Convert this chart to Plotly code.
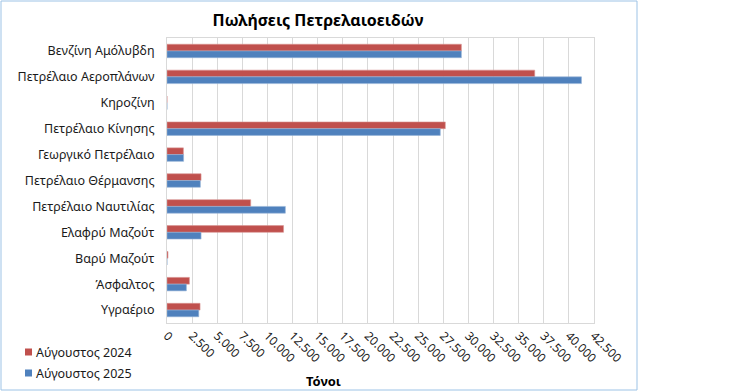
import plotly.graph_objects as go

categories = ["Βενζίνη Αμόλυβδη", "Πετρέλαιο Αεροπλάνων", "Κηροζίνη", "Πετρέλαιο Κίνησης",
              "Γεωργικό Πετρέλαιο", "Πετρέλαιο Θέρμανσης", "Πετρέλαιο Ναυτιλίας",
              "Ελαφρύ Μαζούτ", "Βαρύ Μαζούτ", "Άσφαλτος", "Υγραέριο"]
aug_2024 = [29300, 36600, 0, 27700, 1630, 3390, 8330, 11600, 100, 2230, 3290]
aug_2025 = [29300, 41250, 0, 27200, 1650, 3320, 11780, 3390, 0, 1930, 3160]
series_names = ["Αύγουστος 2024", "Αύγουστος 2025"]
series_colors = ["#C0504D", "#4F81BD"]
tick_vals = list(range(0, 42501, 2500))
tick_text = ["0" if v == 0 else f"{v:,}".replace(",", ".") for v in tick_vals]

FONT = "Noto Sans, Liberation Sans, Arial"

W, H = 729, 392
L, R, T, B = 167, 594, 38, 323
pw, ph = R - L, B - T

def px(x):
    return (x - L) / pw

def py(y):
    return (B - y) / ph

fig = go.Figure()
for vals, name, col, lc in [(aug_2024, series_names[0], series_colors[0], "#D99694"),
                            (aug_2025, series_names[1], series_colors[1], "#95B3D7")]:
    fig.add_trace(go.Bar(y=categories, x=vals, orientation="h", name=name,
                         marker=dict(color=col, line=dict(color=lc, width=0.6))))

shapes = [dict(type="rect", xref="paper", yref="paper", x0=px(1), x1=px(637),
               y0=py(390), y1=py(1), line=dict(color="#9DC3E6", width=1), layer="below")]
annotations = [dict(text="<b>Τόνοι</b>", x=px(323), y=py(381), xref="paper", yref="paper",
                    showarrow=False, xanchor="center", yanchor="middle",
                    font=dict(size=13, family=FONT, color="#000"))]
for i, (name, col) in enumerate(zip(series_names, series_colors)):
    yc = 352 + 21 * i
    shapes.append(dict(type="rect", xref="paper", yref="paper", x0=px(25), x1=px(32),
                       y0=py(yc + 3.5), y1=py(yc - 3.5), fillcolor=col, line=dict(width=0)))
    annotations.append(dict(text=name, x=px(34), y=py(yc), xref="paper", yref="paper",
                            showarrow=False, xanchor="left", yanchor="middle",
                            font=dict(size=12.5, family=FONT, color="#1a1a1a")))

fig.update_layout(
    width=W, height=H,
    margin=dict(l=L, r=W - R, t=T, b=H - B, pad=0),
    paper_bgcolor="white", plot_bgcolor="white",
    barmode="group", bargap=0.48, bargroupgap=0,
    showlegend=False,
    font=dict(family=FONT, size=12, color="#1a1a1a"),
    title=dict(text="<b>Πωλήσεις Πετρελαιοειδών</b>", x=318 / W, xanchor="center",
               y=1 - 20 / H, yanchor="middle", font=dict(size=16, family=FONT, color="#000")),
    xaxis=dict(range=[0, 42500], tickvals=tick_vals, ticktext=tick_text, tickangle=45,
               showgrid=True, gridcolor="#d9d9d9", gridwidth=1,
               showline=True, linecolor="#d9d9d9", linewidth=1, mirror=True,
               zeroline=False, ticks="", tickfont=dict(size=12, family=FONT, color="#1a1a1a")),
    yaxis=dict(autorange="reversed", showgrid=False, showline=True, linecolor="#d9d9d9",
               linewidth=1, mirror=True, ticks="", ticklabelstandoff=9,
               tickfont=dict(size=12.5, family=FONT, color="#1a1a1a")),
    shapes=shapes,
    annotations=annotations,
)

fig.write_html("out.html", config={"displayModeBar": False},
               post_script="document.body.style.margin='0';document.body.style.overflow='hidden';")
